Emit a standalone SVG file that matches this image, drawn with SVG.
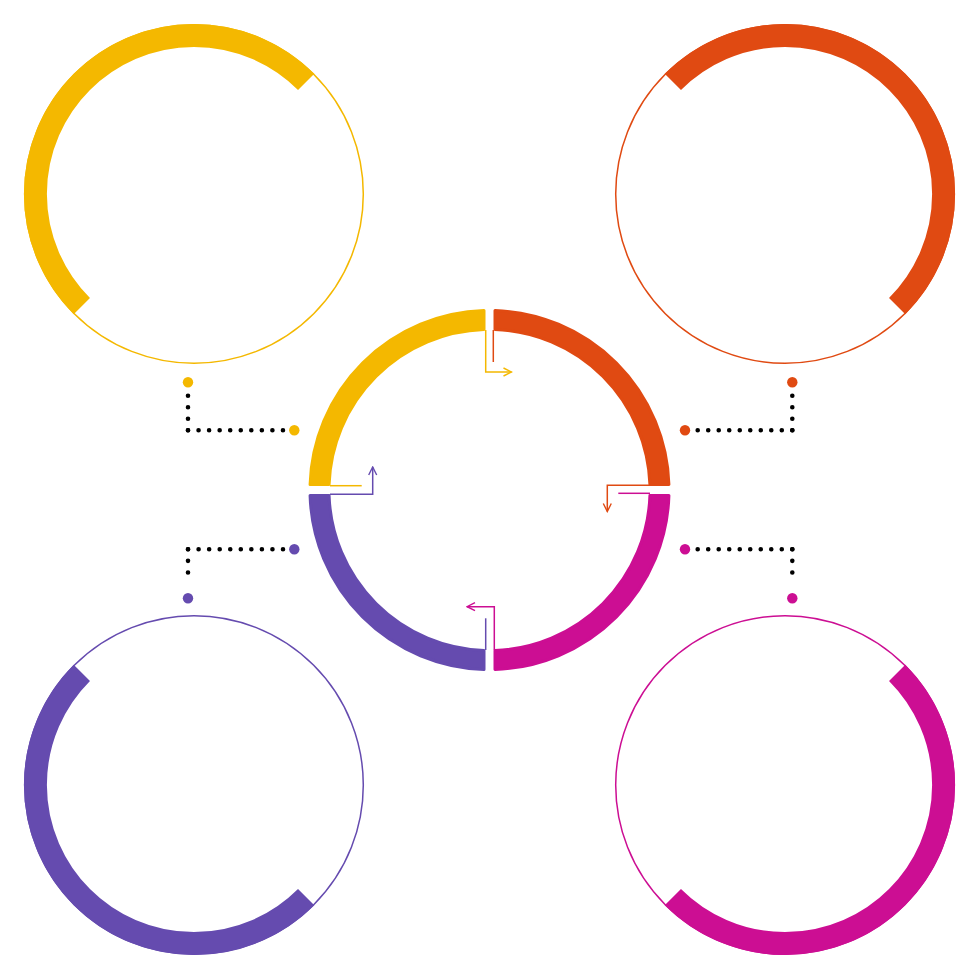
<svg xmlns="http://www.w3.org/2000/svg" width="980" height="980" viewBox="0 0 980 980">
<style>
.thin{fill:none;stroke-width:1.5}
.band{fill:none;stroke-width:23;stroke-linecap:butt}
.seg{stroke-width:3;stroke-linejoin:round}
.ln{fill:none;stroke-width:1.5}
.dots{fill:none;stroke:#000;stroke-width:4.6;stroke-linecap:round}
.y{stroke:#F4B800}.o{stroke:#E04A12}.p{stroke:#654BAF}.m{stroke:#CC0E93}
.fy{fill:#F4B800}.fo{fill:#E04A12}.fp{fill:#654BAF}.fm{fill:#CC0E93}
</style>
<defs>
<marker id="ay" viewBox="0 0 10 10" refX="9" refY="5" markerWidth="10" markerHeight="10" markerUnits="userSpaceOnUse" orient="auto"><path d="M1,1 L9,5 L1,9" fill="none" stroke="#F4B800" stroke-width="1.4"/></marker>
<marker id="ao" viewBox="0 0 10 10" refX="9" refY="5" markerWidth="10" markerHeight="10" markerUnits="userSpaceOnUse" orient="auto"><path d="M1,1 L9,5 L1,9" fill="none" stroke="#E04A12" stroke-width="1.4"/></marker>
<marker id="ap" viewBox="0 0 10 10" refX="9" refY="5" markerWidth="10" markerHeight="10" markerUnits="userSpaceOnUse" orient="auto"><path d="M1,1 L9,5 L1,9" fill="none" stroke="#654BAF" stroke-width="1.4"/></marker>
<marker id="am" viewBox="0 0 10 10" refX="9" refY="5" markerWidth="10" markerHeight="10" markerUnits="userSpaceOnUse" orient="auto"><path d="M1,1 L9,5 L1,9" fill="none" stroke="#CC0E93" stroke-width="1.4"/></marker>
</defs>
<rect width="980" height="980" fill="#fff"/>

<g id="circle-top-left">
<circle class="thin y" cx="194" cy="194" r="169.3"/>
<path class="band y" d="M306.15,81.85 A158.6,158.6 0 0 0 81.85,306.15"/>
</g>
<g id="circle-top-right">
<circle class="thin o" cx="785" cy="194" r="169.3"/>
<path class="band o" d="M672.85,81.85 A158.6,158.6 0 0 1 897.15,306.15"/>
</g>
<g id="circle-bottom-left">
<circle class="thin p" cx="194" cy="785" r="169.3"/>
<path class="band p" d="M81.85,672.85 A158.6,158.6 0 0 0 306.15,897.15"/>
</g>
<g id="circle-bottom-right">
<circle class="thin m" cx="785" cy="785" r="169.3"/>
<path class="band m" d="M897.15,672.85 A158.6,158.6 0 0 1 672.85,897.15"/>
</g>

<g id="center-yellow"><path class="seg y fy" d="M484,310.58 A179.5,179.5 0 0 0 310.08,484.5 L329.09,484.5 A160.5,160.5 0 0 1 484,329.59 Z"/></g>
<g id="center-orange"><path class="seg o fo" d="M495,310.58 A179.5,179.5 0 0 1 668.92,484.5 L649.91,484.5 A160.5,160.5 0 0 0 495,329.59 Z"/></g>
<g id="center-magenta"><path class="seg m fm" d="M668.92,495.5 A179.5,179.5 0 0 1 495,669.42 L495,650.41 A160.5,160.5 0 0 0 649.91,495.5 Z"/></g>
<g id="center-purple"><path class="seg p fp" d="M484,669.42 A179.5,179.5 0 0 1 310.08,495.5 L329.09,495.5 A160.5,160.5 0 0 0 484,650.41 Z"/></g>

<g id="connectors">
<path class="ln y" d="M485.7,330 V372 H511.5" marker-end="url(#ay)"/>
<path class="ln o" d="M493.3,330 V362"/>
<path class="ln o" d="M650,485.3 H607.3 V511.5" marker-end="url(#ao)"/>
<path class="ln m" d="M650,493.3 H618.3"/>
<path class="ln m" d="M494.3,650 V606.7 H467" marker-end="url(#am)"/>
<path class="ln p" d="M485.7,650 V618.3"/>
<path class="ln p" d="M330,494.3 H372.7 V467" marker-end="url(#ap)"/>
<path class="ln y" d="M330,485.7 H361.7"/>

<path class="dots" stroke-dasharray="0 11.53" d="M188,395.7 V430.3"/>
<path class="dots" stroke-dasharray="0 10.55" d="M188,430.3 H283"/>
<circle class="fy" cx="188" cy="382.3" r="5.2"/>
<circle class="fy" cx="294.3" cy="430.3" r="5.2"/>

<path class="dots" stroke-dasharray="0 11.53" d="M792.3,395.7 V430.3"/>
<path class="dots" stroke-dasharray="0 10.51" d="M792.3,430.3 H697.7"/>
<circle class="fo" cx="792.3" cy="382.3" r="5.2"/>
<circle class="fo" cx="685" cy="430.3" r="5.2"/>

<path class="dots" stroke-dasharray="0 10.55" d="M283,549.3 H188"/>
<path class="dots" stroke-dasharray="0 11.57" d="M188,549.3 V584"/>
<circle class="fp" cx="294.3" cy="549.3" r="5.2"/>
<circle class="fp" cx="188" cy="598.3" r="5.2"/>

<path class="dots" stroke-dasharray="0 10.51" d="M697.7,549.3 H792.3"/>
<path class="dots" stroke-dasharray="0 11.57" d="M792.3,549.3 V584"/>
<circle class="fm" cx="685" cy="549.3" r="5.2"/>
<circle class="fm" cx="792.3" cy="598.3" r="5.2"/>
</g>
</svg>
